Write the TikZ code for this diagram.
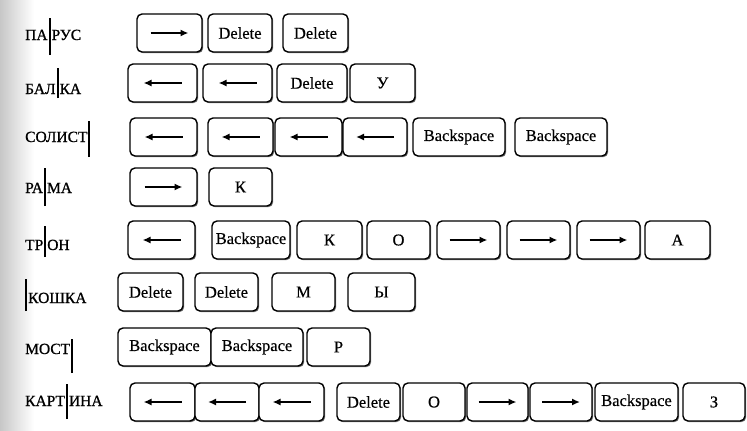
\documentclass[tikz,border=0pt]{standalone}
\usepackage{fontspec}
\setmainfont{Liberation Serif}[FakeBold=0.5]
\newfontfamily\heavyserif{Liberation Serif}[FakeBold=0.9]
\usetikzlibrary{shadows,arrows.meta}
\newcommand\cbar[2]{\kern1pt\rule[-#1pt]{2pt}{#2pt}\kern1pt}
\newcommand\kk[6]{\node[key, minimum width={#3-#2}, minimum height={#5}] (#1) at ({(#2+#3)/2},#4) {#6};}
\newcommand\rarr[1]{\draw[karrow] ([xshift=-19pt]#1.center) -- ([xshift=19pt]#1.center);}
\newcommand\larr[1]{\draw[karrow] ([xshift=19pt]#1.center) -- ([xshift=-19pt]#1.center);}
\begin{document}
\begin{tikzpicture}[x=1pt,y=-1pt,
  key/.style={draw, line width=1.4pt, rounded corners=5pt, inner sep=0pt, fill=white,
    drop shadow={shadow xshift=1.2pt, shadow yshift=-1.2pt, fill=black!55, opacity=1},
    font=\fontsize{16.5}{17}\selectfont},
  lbl/.style={anchor=base west, inner sep=0pt, font=\heavyserif\fontsize{15.5}{15.5}\selectfont},
  karrow/.style={line width=1.6pt, -{Latex[length=8pt,width=7pt]}}]
\useasboundingbox (0,0) rectangle (747,431);
\shade[left color=black!22, right color=white] (0,0) rectangle (34,431);

% labels
\node[lbl] (l1) at (25,40)  {ПА\cbar{15}{37}РУС};
\node[lbl] (l2) at (25,94)  {БАЛ\cbar{4}{30}КА};
\node[lbl] (l3) at (25,142) {СОЛИСТ\cbar{15}{36}};
\node[lbl] (l4) at (25,193) {РА\cbar{13}{38}МА};
\node[lbl] (l5) at (25,250) {ТР\cbar{7}{31}ОН};
\node[lbl] (l6) at (24,303) {\cbar{8}{32}КОШКА};
\node[lbl] (l7) at (25,354) {МОСТ\cbar{19}{34}};
\node[lbl] (l8) at (25,406) {КАРТ\cbar{13}{35}ИНА};

% row 1
\kk{a1}{137}{202}{33}{38}{}
\kk{a2}{208}{272}{33}{38}{Delete}
\kk{a3}{283}{348}{33}{38}{Delete}
\rarr{a1}
% row 2
\kk{b1}{128}{197}{83}{38}{}
\kk{b2}{203}{272}{83}{38}{}
\kk{b3}{277}{347}{83}{38}{Delete}
\kk{b4}{350}{415}{83}{38}{У}
\larr{b1}\larr{b2}
% row 3
\kk{c1}{130}{197}{137}{38}{}
\kk{c2}{208}{273}{137}{38}{}
\kk{c3}{275}{342}{137}{38}{}
\kk{c4}{343}{407}{137}{38}{}
\kk{c5}{413}{505}{137}{38}{Backspace}
\kk{c6}{515}{607}{137}{38}{Backspace}
\larr{c1}\larr{c2}\larr{c3}\larr{c4}
% row 4
\kk{d1}{130}{197}{187}{38}{}
\kk{d2}{209}{272}{187}{38}{К}
\rarr{d1}
% row 5
\kk{e1}{128}{195}{240}{38}{}
\kk{e2}{212}{290}{240}{38}{Backspace}
\kk{e3}{297}{362}{240}{38}{К}
\kk{e4}{367}{430}{240}{38}{О}
\kk{e5}{437}{500}{240}{38}{}
\kk{e6}{507}{570}{240}{38}{}
\kk{e7}{577}{640}{240}{38}{}
\kk{e8}{645}{710}{240}{38}{А}
\larr{e1}\rarr{e5}\rarr{e6}\rarr{e7}
% row 6
\kk{f1}{118}{183}{292}{38}{Delete}
\kk{f2}{195}{258}{292}{38}{Delete}
\kk{f3}{272}{335}{292}{38}{М}
\kk{f4}{348}{415}{292}{38}{Ы}
% row 7
\kk{g1}{118}{211}{347}{38}{Backspace}
\kk{g2}{211}{303}{347}{38}{Backspace}
\kk{g3}{307}{370}{347}{38}{Р}
% row 8
\kk{h1}{130}{195}{402}{38}{}
\kk{h2}{195}{259}{402}{38}{}
\kk{h3}{259}{324}{402}{38}{}
\kk{h4}{337}{400}{402}{38}{Delete}
\kk{h5}{403}{465}{402}{38}{О}
\kk{h6}{467}{528}{402}{38}{}
\kk{h7}{530}{592}{402}{38}{}
\kk{h8}{595}{678}{402}{38}{Backspace}
\kk{h9}{683}{745}{402}{38}{З}
\larr{h1}\larr{h2}\larr{h3}\rarr{h6}\rarr{h7}
\end{tikzpicture}
\end{document}
